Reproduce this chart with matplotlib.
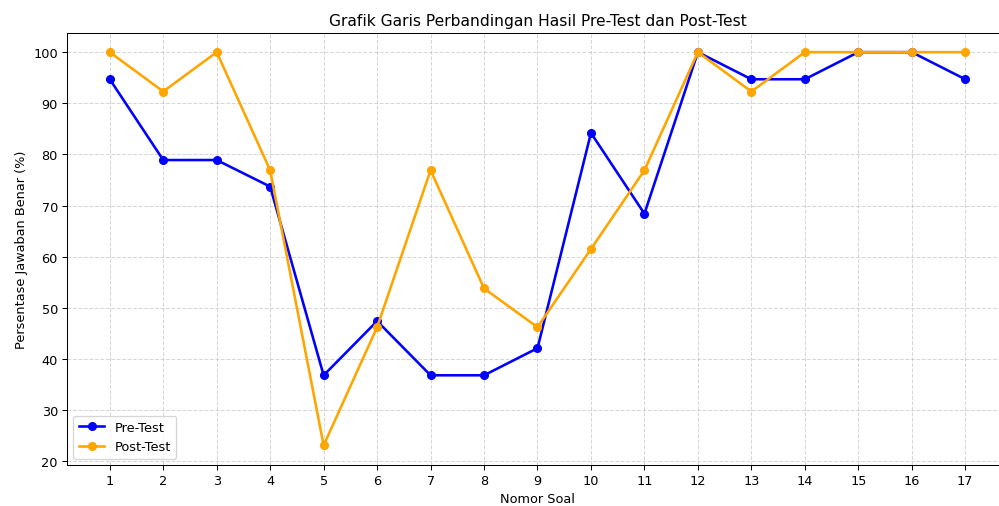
import matplotlib
matplotlib.use("Agg")
import matplotlib.pyplot as plt

### Data
nomor_soal = list(range(1, 18))
pre_test = [94.7, 78.9, 78.9, 73.7, 36.8, 47.4, 36.8, 36.8, 42.1,
            84.2, 68.4, 100.0, 94.7, 94.7, 100.0, 100.0, 94.7]
post_test = [100.0, 92.3, 100.0, 76.9, 23.1, 46.2, 76.9, 53.8, 46.2,
             61.5, 76.9, 100.0, 92.3, 100.0, 100.0, 100.0, 100.0]

### Plot (reference looks like a 100 dpi figure scaled down to ~93 %)
fig, ax = plt.subplots(figsize=(999/93, 507/93), dpi=93)
ax.plot(nomor_soal, pre_test, marker='o', color='blue', linewidth=2, label='Pre-Test')
ax.plot(nomor_soal, post_test, marker='o', color='orange', linewidth=2, label='Post-Test')

### Decorate
ax.set_title("Grafik Garis Perbandingan Hasil Pre-Test dan Post-Test")
ax.set_xlabel("Nomor Soal")
ax.set_ylabel("Persentase Jawaban Benar (%)")
ax.set_xticks(nomor_soal)
ax.grid(True, linestyle='--', alpha=0.5)
ax.legend(loc='lower left')

### Axes box runs slightly past the right edge, as in the reference crop
fig.subplots_adjust(left=67/999, right=1008/999, top=1 - 33.5/507, bottom=1 - 466/507)
fig.savefig("out.png")
